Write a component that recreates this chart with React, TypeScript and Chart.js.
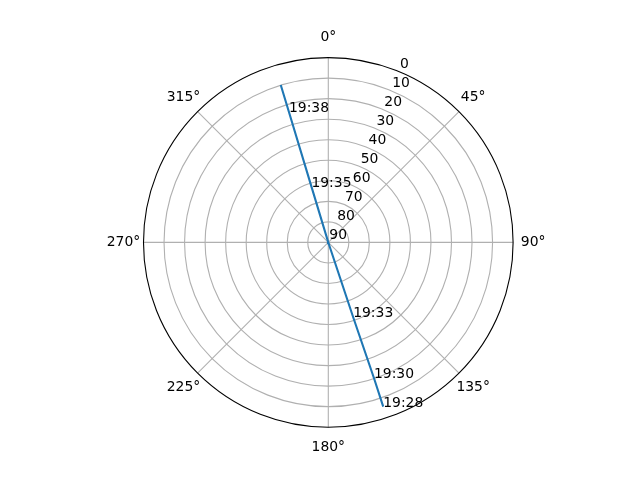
import React, { useEffect, useRef } from 'react';
import { Chart, ChartConfiguration, Plugin, registerables } from 'chart.js';

Chart.register(...registerables);

// pass samples: time label ('' = no label), azimuth (deg), elevation (deg)
const passTimes = ['19:28', '19:30', '19:33', '', '', '19:35', '19:38', ''];
const passAzimuth = [161.5, 161.4, 161.6, 161.5, 343.2, 343.2, 343.2, 343.2];
const passElevation = [5.7, 20.2, 51.6, 89.6, 89.6, 61.6, 23.8, 9.9];

// elevation rings (label shown, drawn at r = 90 - elevation)
const elevationTicks = [0, 10, 20, 30, 40, 50, 60, 70, 80, 90];
const azimuthTicks = [0, 45, 90, 135, 180, 225, 270, 315];

const FONT = '13.9px "DejaVu Sans"';
const toRad = (d: number) => (d * Math.PI) / 180;

const polarGrid: Plugin = {
  id: 'polarGrid',
  beforeDatasetsDraw(chart) {
    const { ctx } = chart;
    const xs = chart.scales.x;
    const ys = chart.scales.y;
    const cx = xs.getPixelForValue(0);
    const cy = ys.getPixelForValue(0);
    const unit = xs.getPixelForValue(1) - cx;
    ctx.save();
    ctx.strokeStyle = '#b0b0b0';
    ctx.lineWidth = 1.1;
    elevationTicks.forEach((el) => {
      const r = (90 - el) * unit;
      if (r <= 0 || el === 0) return;
      ctx.beginPath();
      ctx.arc(cx, cy, r, 0, Math.PI * 2);
      ctx.stroke();
    });
    azimuthTicks.forEach((az) => {
      ctx.beginPath();
      ctx.moveTo(cx, cy);
      ctx.lineTo(xs.getPixelForValue(90 * Math.sin(toRad(az))), ys.getPixelForValue(90 * Math.cos(toRad(az))));
      ctx.stroke();
    });
    ctx.restore();
  },
  afterDatasetsDraw(chart) {
    const { ctx } = chart;
    const xs = chart.scales.x;
    const ys = chart.scales.y;
    const cx = xs.getPixelForValue(0);
    const cy = ys.getPixelForValue(0);
    const unit = xs.getPixelForValue(1) - cx;
    ctx.save();
    // outer spine
    ctx.strokeStyle = '#000000';
    ctx.lineWidth = 1.1;
    ctx.beginPath();
    ctx.arc(cx, cy, 90 * unit, 0, Math.PI * 2);
    ctx.stroke();

    ctx.fillStyle = '#000000';
    ctx.font = FONT;
    // radial labels along 22.5 deg
    ctx.textAlign = 'left';
    ctx.textBaseline = 'alphabetic';
    elevationTicks.forEach((el) => {
      const r = 90 - el;
      const px = xs.getPixelForValue(r * Math.sin(toRad(22.5)));
      const py = ys.getPixelForValue(r * Math.cos(toRad(22.5)));
      ctx.fillText(String(el), px + 1, py - 3.3);
    });
    // azimuth labels
    ctx.textAlign = 'center';
    ctx.textBaseline = 'middle';
    azimuthTicks.forEach((az) => {
      const r = 90 * unit + 20;
      ctx.fillText(az + '°', cx + r * Math.sin(toRad(az)), cy - r * Math.cos(toRad(az)));
    });
    // time labels on the pass
    ctx.textAlign = 'left';
    ctx.textBaseline = 'alphabetic';
    passTimes.forEach((t, i) => {
      if (!t) return;
      const r = 90 - passElevation[i];
      const px = xs.getPixelForValue(r * Math.sin(toRad(passAzimuth[i])));
      const py = ys.getPixelForValue(r * Math.cos(toRad(passAzimuth[i])));
      ctx.fillText(t, px, py);
    });
    ctx.restore();
  },
};

const App: React.FC = () => {
  const chartRef = useRef<HTMLCanvasElement>(null);
  const chartInstanceRef = useRef<Chart | null>(null);

  useEffect(() => {
    if (!chartRef.current) return;
    const ctx = chartRef.current.getContext('2d');
    if (!ctx) return;

    const points = passAzimuth.map((az, i) => {
      const r = 90 - passElevation[i];
      return { x: r * Math.sin(toRad(az)), y: r * Math.cos(toRad(az)) };
    });

    const config: ChartConfiguration<'scatter'> = {
      type: 'scatter',
      data: {
        datasets: [{
          data: points,
          showLine: true,
          borderColor: '#1f77b4',
          backgroundColor: '#1f77b4',
          borderWidth: 2.1,
          pointRadius: 0,
          pointHoverRadius: 0,
          tension: 0,
        }],
      },
      options: {
        responsive: false,
        animation: false,
        devicePixelRatio: 1,
        layout: { padding: { left: 143.5, right: 126.9, top: 57.6, bottom: 52.8 } },
        plugins: {
          legend: { display: false },
          tooltip: { enabled: false },
        },
        scales: {
          x: { type: 'linear', min: -90, max: 90, display: false },
          y: { type: 'linear', min: -90, max: 90, display: false },
        },
      },
      plugins: [polarGrid],
    };

    chartInstanceRef.current = new Chart(ctx, config);

    return () => {
      if (chartInstanceRef.current) {
        chartInstanceRef.current.destroy();
        chartInstanceRef.current = null;
      }
    };
  }, []);

  return (
    <div style={{ position: 'fixed', left: 0, top: 0, width: 640, height: 480, background: '#ffffff' }}>
      <canvas ref={chartRef} width={640} height={480} />
    </div>
  );
};

export default App;
